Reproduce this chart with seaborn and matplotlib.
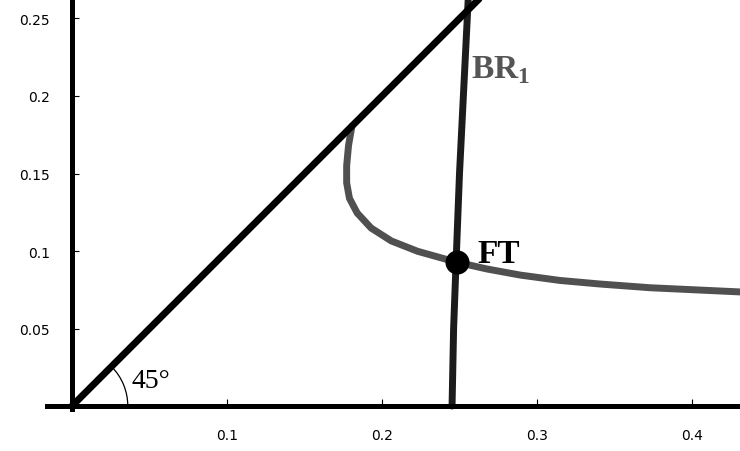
import numpy as np
import pandas as pd
import matplotlib.pyplot as plt
import seaborn as sns
from matplotlib.patches import Arc

sns.set_theme(style="white")

# 45 degree line
diag_x = [0.0, 0.27]
diag_y = [0.0, 0.27]

# best response BR1 (nearly vertical)
br1_x = [0.2452, 0.2462, 0.2478, 0.2500, 0.2530, 0.2560]
br1_y = [0.0, 0.05, 0.093, 0.15, 0.21, 0.27]

# second best response (grey curve)
br2_x = [0.1806, 0.1784, 0.1772, 0.1772, 0.1790, 0.1840, 0.1930, 0.2060, 0.2230,
         0.2477, 0.2677, 0.2890, 0.3148, 0.3406, 0.3729, 0.4052, 0.4330]
br2_y = [0.1806, 0.1680, 0.1550, 0.1440, 0.1340, 0.1245, 0.1148, 0.1065, 0.0998,
         0.0929, 0.0884, 0.0845, 0.0810, 0.0787, 0.0763, 0.0748, 0.0735]

# equilibrium point
ft_x = [0.2482]
ft_y = [0.0927]

xticks = [0.1, 0.2, 0.3, 0.4]
xtick_labels = ["0.1", "0.2", "0.3", "0.4"]
yticks = [0.05, 0.1, 0.15, 0.2, 0.25]
ytick_labels = ["0.05", "0.1", "0.15", "0.2", "0.25"]

fig = plt.figure(figsize=(7.4, 4.52), dpi=100)
ax = fig.add_axes([0, 0, 1, 1])

sns.lineplot(x=br2_x, y=br2_y, sort=False, estimator=None, color="#505050",
             linewidth=5, ax=ax, zorder=3)
sns.lineplot(x=br1_x, y=br1_y, sort=False, estimator=None, color="#1c1c1c",
             linewidth=5, ax=ax, zorder=4)
sns.lineplot(x=diag_x, y=diag_y, sort=False, estimator=None, color="black",
             linewidth=5, ax=ax, zorder=5)
sns.scatterplot(x=ft_x, y=ft_y, color="black", s=300, edgecolor="black",
                linewidth=0, ax=ax, zorder=6)

# angle marker
ax.add_patch(Arc((0, 0), 0.072, 0.072, theta1=0, theta2=45, color="black", lw=0.9, zorder=5))

ax.set_xlim(-0.04645, 0.43097)
ax.set_ylim(-0.02903, 0.26258)

for side in ["top", "right"]:
    ax.spines[side].set_visible(False)
ax.spines["left"].set_position(("data", 0))
ax.spines["bottom"].set_position(("data", 0))
ax.spines["left"].set_bounds(-0.002, 0.27)
ax.spines["bottom"].set_bounds(-0.016, 0.44)
for side in ["left", "bottom"]:
    ax.spines[side].set_linewidth(3.6)
    ax.spines[side].set_color("black")
    ax.spines[side].set_zorder(7)

ax.set_xticks(xticks)
ax.set_xticklabels(xtick_labels)
ax.set_yticks(yticks)
ax.set_yticklabels(ytick_labels)
ax.tick_params(direction="in", length=5, width=0.8, color="black", pad=16,
               labelsize=10, labelcolor="black", left=True, bottom=True)
ax.grid(False)

serif = ["Liberation Serif", "DejaVu Serif"]
ax.text(0.2615, 0.0985, "FT", fontsize=24, fontweight="bold", family=serif,
        color="black", ha="left", va="center")
ax.text(0.2575, 0.217, r"BR$_\mathregular{1}$", fontsize=24, fontweight="bold",
        family=serif, color="#555555", ha="left", va="center")
ax.text(0.0385, 0.0164, "45°", fontsize=20, family=serif, color="black",
        ha="left", va="center")

fig.savefig("out.png", dpi=100)
